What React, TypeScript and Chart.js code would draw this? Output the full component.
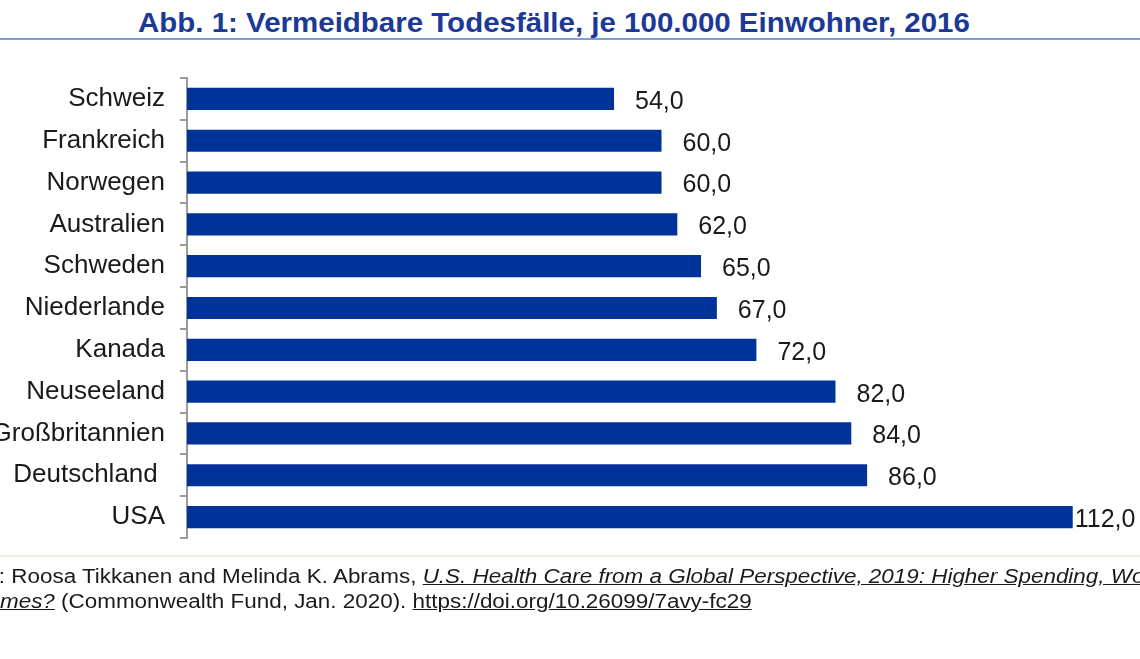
import React, { useEffect, useRef } from "react";
import { Chart, registerables } from "chart.js";

Chart.register(...registerables);

const categories = [
  "Schweiz",
  "Frankreich",
  "Norwegen",
  "Australien",
  "Schweden",
  "Niederlande",
  "Kanada",
  "Neuseeland",
  "Großbritannien",
  "Deutschland ",
  "USA",
];
const values = [54, 60, 60, 62, 65, 67, 72, 82, 84, 86, 112];
const titleText = "Abb. 1: Vermeidbare Todesfälle, je 100.000 Einwohner, 2016";

const BAR_COLOR = "#003399";
const AXIS_COLOR = "#9a9a9a";
const FONT = "'Liberation Sans', Arial, sans-serif";

const valueLabels = {
  id: "valueLabels",
  afterDatasetsDraw(chart: any) {
    const ctx = chart.ctx;
    const meta = chart.getDatasetMeta(0);
    ctx.save();
    ctx.font = `25px ${FONT}`;
    ctx.fillStyle = "#1a1a1a";
    ctx.textBaseline = "middle";
    ctx.textAlign = "left";
    meta.data.forEach((el: any, i: number) => {
      const txt = values[i].toFixed(1).replace(".", ",");
      const w = ctx.measureText(txt).width;
      let x = el.x + 21;
      if (x + w > chart.width) x = el.x + 2;
      ctx.fillText(txt, x, el.y + 3);
    });
    ctx.restore();
  },
};

export default function App() {
  const ref = useRef<HTMLCanvasElement | null>(null);

  useEffect(() => {
    if (!ref.current) return;
    const chart = new Chart(ref.current, {
      type: "bar",
      data: {
        labels: categories,
        datasets: [
          {
            data: values,
            backgroundColor: BAR_COLOR,
            borderWidth: 0,
            barPercentage: 0.53,
            categoryPercentage: 1,
          },
        ],
      },
      options: {
        indexAxis: "y",
        animation: false,
        responsive: true,
        maintainAspectRatio: false,
        layout: { padding: { top: 78, bottom: 121, left: 0, right: 4 } },
        plugins: {
          legend: { display: false },
          tooltip: { enabled: false },
          title: { display: false },
        },
        scales: {
          x: {
            display: false,
            min: 0,
            max: 120,
          },
          y: {
            afterFit: (scale: any) => {
              scale.width = 187;
            },
            grid: {
              offset: true,
              drawOnChartArea: false,
              drawTicks: true,
              tickLength: 7,
              color: AXIS_COLOR,
              lineWidth: 2,
            },
            border: { display: true, color: AXIS_COLOR, width: 2 },
            ticks: {
              padding: 15,
              color: "#1a1a1a",
              font: { family: FONT, size: 26 },
              autoSkip: false,
            },
          },
        },
      },
      plugins: [valueLabels],
    });
    return () => chart.destroy();
  }, []);

  return (
    <div
      style={{
        position: "fixed",
        left: 0,
        top: 0,
        width: 1140,
        height: 659,
        overflow: "hidden",
        background: "#ffffff",
        fontFamily: FONT,
      }}
    >
      <div
        style={{
          position: "absolute",
          left: 138,
          top: 6,
          whiteSpace: "nowrap",
          fontWeight: "bold",
          fontSize: 28,
          color: "#1c3996",
          lineHeight: "34px",
          transform: "scaleX(1.053)",
          transformOrigin: "left top",
        }}
      >
        {titleText}
      </div>
      <div
        style={{
          position: "absolute",
          left: 0,
          top: 38,
          width: 1140,
          height: 2,
          background: "#7a9fd4",
        }}
      />
      <div style={{ position: "absolute", left: 0, top: 0, width: 1140, height: 659 }}>
        <canvas ref={ref} />
      </div>
      <div
        style={{
          position: "absolute",
          left: 0,
          top: 555,
          width: 1140,
          height: 2,
          background: "#eeebe3",
        }}
      />
      <div
        style={{
          position: "absolute",
          left: 0,
          top: 564,
          width: 1140,
          overflow: "hidden",
          height: 60,
        }}
      >
        <div
          style={{
            fontSize: 19.5,
            lineHeight: "25px",
            color: "#1a1a1a",
            whiteSpace: "nowrap",
            transform: "scaleX(1.15)",
            transformOrigin: "left top",
          }}
        >
          <div style={{ position: "relative", marginLeft: -1 }}>
            <span style={{ position: "absolute", right: "100%" }}>Quelle</span>
            : Roosa Tikkanen and Melinda K. Abrams,{" "}
            <span style={{ fontStyle: "italic", textDecoration: "underline" }}>
              U.S. Health Care from a Global Perspective, 2019: Higher Spending, Worse
            </span>
          </div>
          <div style={{ position: "relative", marginLeft: 0 }}>
            <span
              style={{
                position: "absolute",
                right: "100%",
                fontStyle: "italic",
                textDecoration: "underline",
              }}
            >
              Outco
            </span>
            <span style={{ fontStyle: "italic", textDecoration: "underline" }}>mes?</span>{" "}
            (Commonwealth Fund, Jan. 2020).{" "}
            <span style={{ textDecoration: "underline" }}>https://doi.org/10.26099/7avy-fc29</span>
          </div>
        </div>
      </div>
    </div>
  );
}
